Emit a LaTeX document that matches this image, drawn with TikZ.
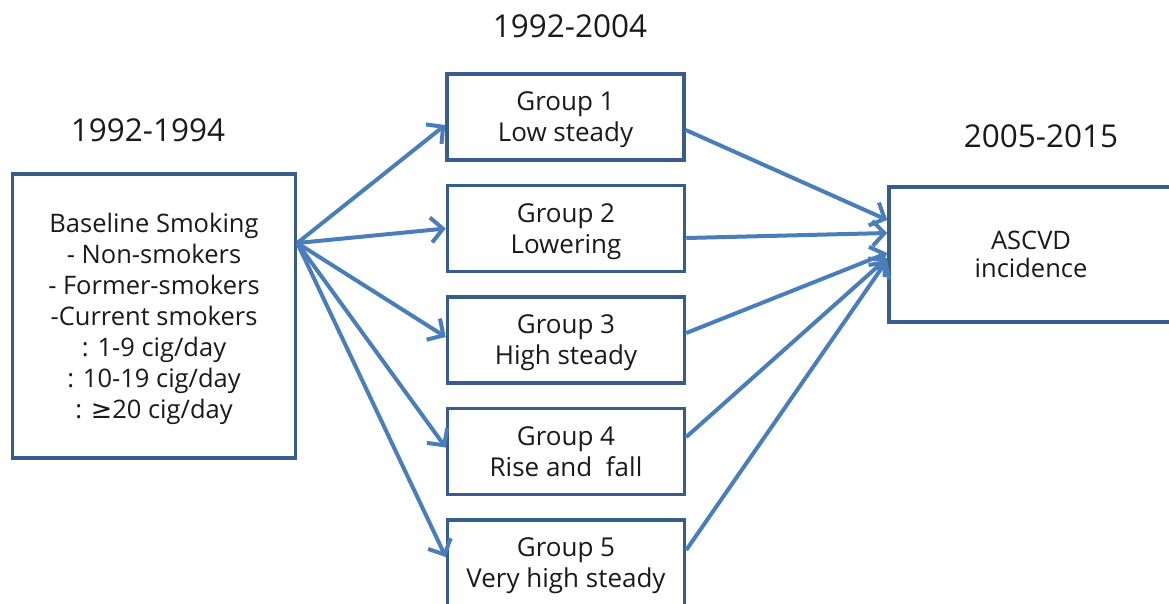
\documentclass[tikz,border=0pt]{standalone}
\usepackage{fontspec}
\setmainfont{Open Sans}
\newfontfamily\symfont{DejaVu Sans}
\usetikzlibrary{arrows.meta}
\definecolor{boxblue}{HTML}{385D8A}
\definecolor{arrblue}{HTML}{4A7EBB}
\definecolor{txt}{HTML}{1A1A1A}
\begin{document}
\begin{tikzpicture}[x=1pt,y=-1pt,
  box/.style={draw=boxblue, line width=3.5pt, fill=white, align=center, inner sep=0pt,
    text depth=0pt, text=txt, font=\fontsize{25.5}{31}\selectfont},
  grp/.style={box, minimum width=237pt, minimum height=86pt, font=\fontsize{26}{31}\selectfont},
  title/.style={text=txt, font=\fontsize{31.5}{36}\selectfont, inner sep=0pt},
  arr/.style={draw=arrblue, line width=4pt, -{Straight Barb[length=12pt,width=25pt]}}]
\useasboundingbox (0,0) rectangle (1169,603);
% titles
\node[title] (t1) at (570,26) {1992-2004};
\node[title] (t2) at (148,130) {1992-1994};
\node[title] (t3) at (1041,136) {2005-2015};
% boxes
\node[box, minimum width=283pt, minimum height=284pt] (base) at (154,316)
  {Baseline Smoking\\- Non-smokers\\- Former-smokers\\-Current smokers\\: 1-9 cig/day\\: 10-19 cig/day\\: {\symfont ≥}20 cig/day};
\node[grp] (g1) at (565.5,117) {Group 1\\Low steady};
\node[grp] (g2) at (566,228.5) {Group 2\\Lowering};
\node[grp] (g3) at (566,340) {Group 3\\High steady};
\node[grp] (g4) at (566,451.5) {Group 4\\Rise and\ \ fall};
\node[grp] (g5) at (566,563) {Group 5\\Very high steady};
\node[box, minimum width=284pt, minimum height=135pt, font=\fontsize{25.5}{28}\selectfont] (out) at (1031,254.5) {ASCVD\\incidence};
% arrows from baseline
\draw[arr] ([yshift=73pt]base.east) -- ([yshift=-8pt]g1.west);
\draw[arr] ([yshift=73pt]base.east) -- ([yshift=0pt]g2.west);
\draw[arr] ([yshift=73pt]base.east) -- ([yshift=3pt]g3.west);
\draw[arr] ([yshift=73pt]base.east) -- ([yshift=4pt]g4.west);
\draw[arr] ([yshift=73pt]base.east) -- ([yshift=6pt]g5.west);
% arrows to outcome
\draw[arr] ([yshift=-13pt]g1.east) -- ([yshift=34.5pt]out.west);
\draw[arr] ([yshift=-9.5pt]g2.east) -- ([yshift=21.5pt]out.west);
\draw[arr] ([yshift=7pt]g3.east) -- ([yshift=1.5pt]out.west);
\draw[arr] ([yshift=14.5pt]g4.east) -- ([yshift=-3.5pt]out.west);
\draw[arr] ([yshift=13pt]g5.east) -- ([yshift=-5.5pt]out.west);
\end{tikzpicture}
\end{document}
